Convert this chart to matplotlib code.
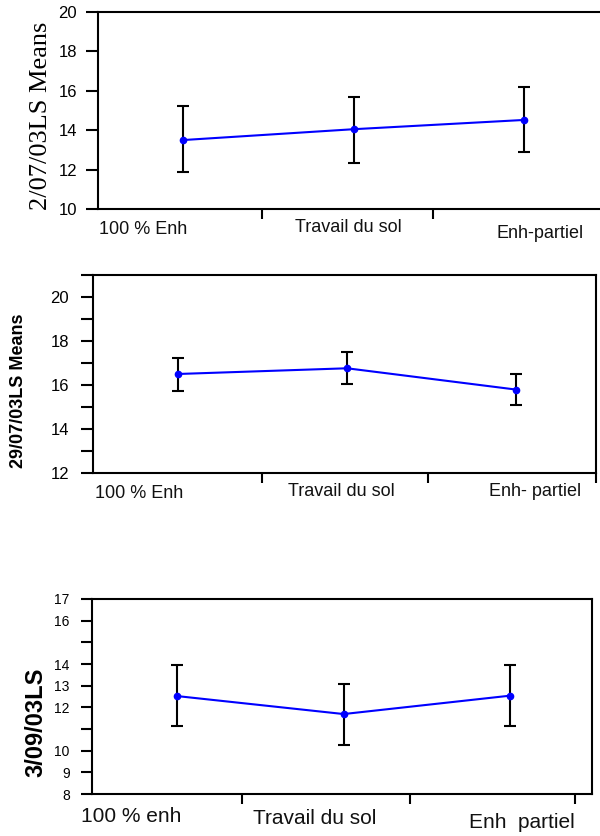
import matplotlib
matplotlib.use("Agg")
import matplotlib.pyplot as plt
import numpy as np

plt.rcParams['font.family'] = ['Liberation Sans', 'DejaVu Sans']

# ---- data ----
cats1 = ["100 % Enh", "Travail du sol", "Enh-partiel"]
means1 = [13.50, 14.05, 14.52]
low1 = [11.90, 12.35, 12.87]
high1 = [15.22, 15.68, 16.18]
ylabel1 = "2/07/03LS Means"
yticks1 = [10, 12, 14, 16, 18, 20]

cats2 = ["100 % Enh", "Travail du sol", "Enh- partiel"]
means2 = [16.50, 16.76, 15.79]
low2 = [15.72, 16.05, 15.08]
high2 = [17.22, 17.50, 16.50]
ylabel2 = "29/07/03LS Means"
yticks2 = [12, 13, 14, 15, 16, 17, 18, 19, 20, 21]
yticklabels2 = ["12", "", "14", "", "16", "", "18", "", "20", ""]

cats3 = ["100 % enh", "Travail du sol", "Enh  partiel"]
means3 = [12.52, 11.69, 12.54]
low3 = [11.15, 10.27, 11.13]
high3 = [13.96, 13.08, 13.96]
ylabel3 = "3/09/03LS"
yticks3 = [8, 9, 10, 11, 12, 13, 14, 15, 16, 17]
yticklabels3 = ["8", "9", "10", "", "12", "13", "14", "", "16", "17"]

W, H = 600, 836
fig = plt.figure(figsize=(W / 100, H / 100), dpi=100)


def rect(left, top, right, bottom):
    return [left / W, 1 - bottom / H, (right - left) / W, (bottom - top) / H]


def draw(ax, means, low, high):
    x = np.arange(len(means))
    m = np.array(means)
    yerr = np.vstack([m - np.array(low), np.array(high) - m])
    ax.errorbar(x, m, yerr=yerr, fmt='none', ecolor='black', elinewidth=1.5,
                capsize=4.5, capthick=1.5, zorder=2)
    ax.plot(x, m, color='#0000ff', lw=1.5, marker='o', ms=4.5,
            markerfacecolor='#0000ff', markeredgecolor='#0000ff', zorder=3)
    for s in ax.spines.values():
        s.set_linewidth(1.5)


def xlabels(ax, cats, xs, offs_px, height_px, size):
    for c, xx, o in zip(cats, xs, offs_px):
        ax.text(xx, -o / height_px, c, transform=ax.get_xaxis_transform(),
                ha='center', va='center', fontsize=size, color='#111111')


# ---- panel 1 ----
ax1 = fig.add_axes(rect(98, 12, 609, 209))
draw(ax1, means1, low1, high1)
ax1.set_xlim(-0.5, 2.5)
ax1.set_ylim(10, 20)
ax1.set_yticks(yticks1)
ax1.set_yticklabels([str(v) for v in yticks1], fontsize=12)
ax1.set_xticks([0.463, 1.467, 2.47])
ax1.set_xticklabels([])
ax1.tick_params(axis='y', length=8.6, width=1.5, pad=6.5)
ax1.tick_params(axis='x', length=7.5, width=1.5, direction='out')
xlabels(ax1, cats1, [-0.235, 0.97, 2.094], [20, 18, 24], 197, 13)
fig.text(41 / W, 1 - 116 / H, ylabel1, rotation=90, ha='center', va='center',
         fontsize=19, family=['Liberation Serif', 'DejaVu Serif'])

# ---- panel 2 ----
ax2 = fig.add_axes(rect(93, 275, 596, 473))
draw(ax2, means2, low2, high2)
ax2.set_xlim(-0.5, 2.47)
ax2.set_ylim(12, 21)
ax2.set_yticks(yticks2)
ax2.set_yticklabels(yticklabels2, fontsize=12)
ax2.set_xticks([0.497, 1.48, 2.468])
ax2.set_xticklabels([])
ax2.tick_params(axis='y', length=8.6, width=1.5, pad=8.6)
ax2.tick_params(axis='x', length=7.5, width=1.5, direction='out')
xlabels(ax2, cats2, [-0.228, 0.967, 2.112], [21, 19, 19], 198, 13)
fig.text(19 / W, 1 - 391 / H, ylabel2, rotation=90, ha='center', va='center',
         fontsize=13, fontweight='bold')

# ---- panel 3 ----
ax3 = fig.add_axes(rect(92, 599, 592, 794))
draw(ax3, means3, low3, high3)
ax3.set_xlim(-0.51, 2.49)
ax3.set_ylim(8, 17)
ax3.set_yticks(yticks3)
ax3.set_yticklabels(yticklabels3, fontsize=10)
ax3.set_xticks([0.39, 1.40, 2.39])
ax3.set_xticklabels([])
ax3.tick_params(axis='y', length=8, width=1.5, pad=8)
ax3.tick_params(axis='x', length=7.5, width=1.5, direction='out')
xlabels(ax3, cats3, [-0.276, 0.828, 2.07], [23, 24, 28], 195, 15)
fig.text(36 / W, 1 - 722 / H, ylabel3, rotation=90, ha='center', va='center',
         fontsize=17, fontweight='bold')

fig.savefig("out.png", dpi=100)
